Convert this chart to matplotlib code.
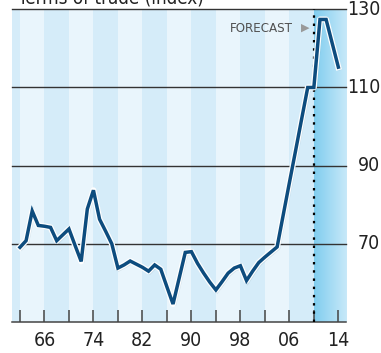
import numpy as np
import matplotlib.pyplot as plt
import matplotlib.patheffects as pe
from matplotlib.colors import to_rgb

# Data
years = list(range(1962, 2015))
index = [69.1, 70.8, 78.4, 74.7, 74.5, 74.2, 70.8, 72.3, 73.8, 69.6,
         65.5, 78.9, 83.7, 76.3, 73.2, 70.0, 63.8, 64.6, 65.6, 64.8,
         64.0, 63.0, 64.6, 63.5, 59.0, 54.6, 61.2, 67.8, 68.0, 65.0,
         62.5, 60.2, 58.2, 60.3, 62.5, 63.8, 64.4, 60.6, 63.0, 65.2,
         66.6, 67.9, 69.2, 77.4, 85.6, 93.7, 101.9, 110.0, 110.0, 127.4,
         127.4, 121.3, 115.2]
forecast_start = 2010

tick_years = [1962, 1966, 1970, 1974, 1978, 1982, 1986, 1990, 1994, 1998, 2002, 2006, 2010, 2014]
tick_labels = ['', '66', '', '74', '', '82', '', '90', '', '98', '', '06', '', '14']
grid_vals = [70, 90, 110, 130]
grid_labels = ['70', '90', '110', '130']

FONT = dict(family=['DejaVu Sans'], stretch='condensed')
light = '#e9f5fc'
dark = '#d5ecf9'

fig = plt.figure(figsize=(3.81, 3.53), dpi=100)
ax = fig.add_axes([12 / 381, 31 / 353, 334 / 381, 312.7 / 353])
x0, x1 = 1960.7, 2015.25

# background stripes
ax.axvspan(x0, tick_years[0], color=dark, lw=0, zorder=0)
for i, start in enumerate(tick_years[:-2]):
    ax.axvspan(start, start + 4, color=light if i % 2 == 0 else dark, lw=0, zorder=0)

# forecast gradient
c0, c1 = np.array(to_rgb('#80cdef')), np.array(to_rgb('#c8e9f9'))
t = np.linspace(0, 1, 200)[:, None]
grad = (c0 * (1 - t) + c1 * t)[None, :, :]
ax.imshow(grad, extent=[forecast_start, x1, 50, 130], aspect='auto', zorder=0.5)

ax.set_xlim(x0, x1)
ax.set_ylim(50, 130)

for v in grid_vals:
    ax.axhline(v, color='#333333', lw=1.0, zorder=2, clip_on=False)
ax.axvline(forecast_start, color='black', ls=(0, (1.1, 2.6)), lw=1.6, zorder=3)

ax.plot(years, index, color='#0d4c7e', lw=2.5, zorder=5, solid_joinstyle='miter',
        path_effects=[pe.SimpleLineShadow(offset=(1, -1), shadow_color='#335566', alpha=0.12),
                      pe.Stroke(linewidth=4.3, foreground='white', joinstyle='round'),
                      pe.Normal()])

# axes styling
for s in ['top', 'left', 'right']:
    ax.spines[s].set_visible(False)
ax.spines['bottom'].set_color('#444444')
ax.spines['bottom'].set_linewidth(1.1)
ax.set_yticks([])
ax.set_xticks(tick_years)
ax.set_xticklabels(tick_labels, fontsize=14, color='#222222', **FONT)
ax.tick_params(axis='x', direction='in', length=8.6, width=1.1, color='#444444', pad=6.5)

for v, lab in zip(grid_vals, grid_labels):
    ax.text(1.1018, v, lab, transform=ax.get_yaxis_transform(), ha='right', va='center',
            fontsize=14, color='#222222', clip_on=False, **FONT)

ax.text(0.841, 0.940, 'FORECAST', transform=ax.transAxes, ha='right', va='center',
        fontsize=9.5, color='#505050', zorder=6, **FONT)
ax.text(0.877, 0.940, '\u25b6', transform=ax.transAxes, ha='center', va='center',
        fontsize=8, family=['DejaVu Sans'], color='#999999', zorder=6)

fig.text(18 / 381, (353 - 4) / 353, 'Terms of trade (index)', fontsize=13.5,
         color='#222222', va='baseline', **FONT)

fig.savefig('out.png', dpi=100)
